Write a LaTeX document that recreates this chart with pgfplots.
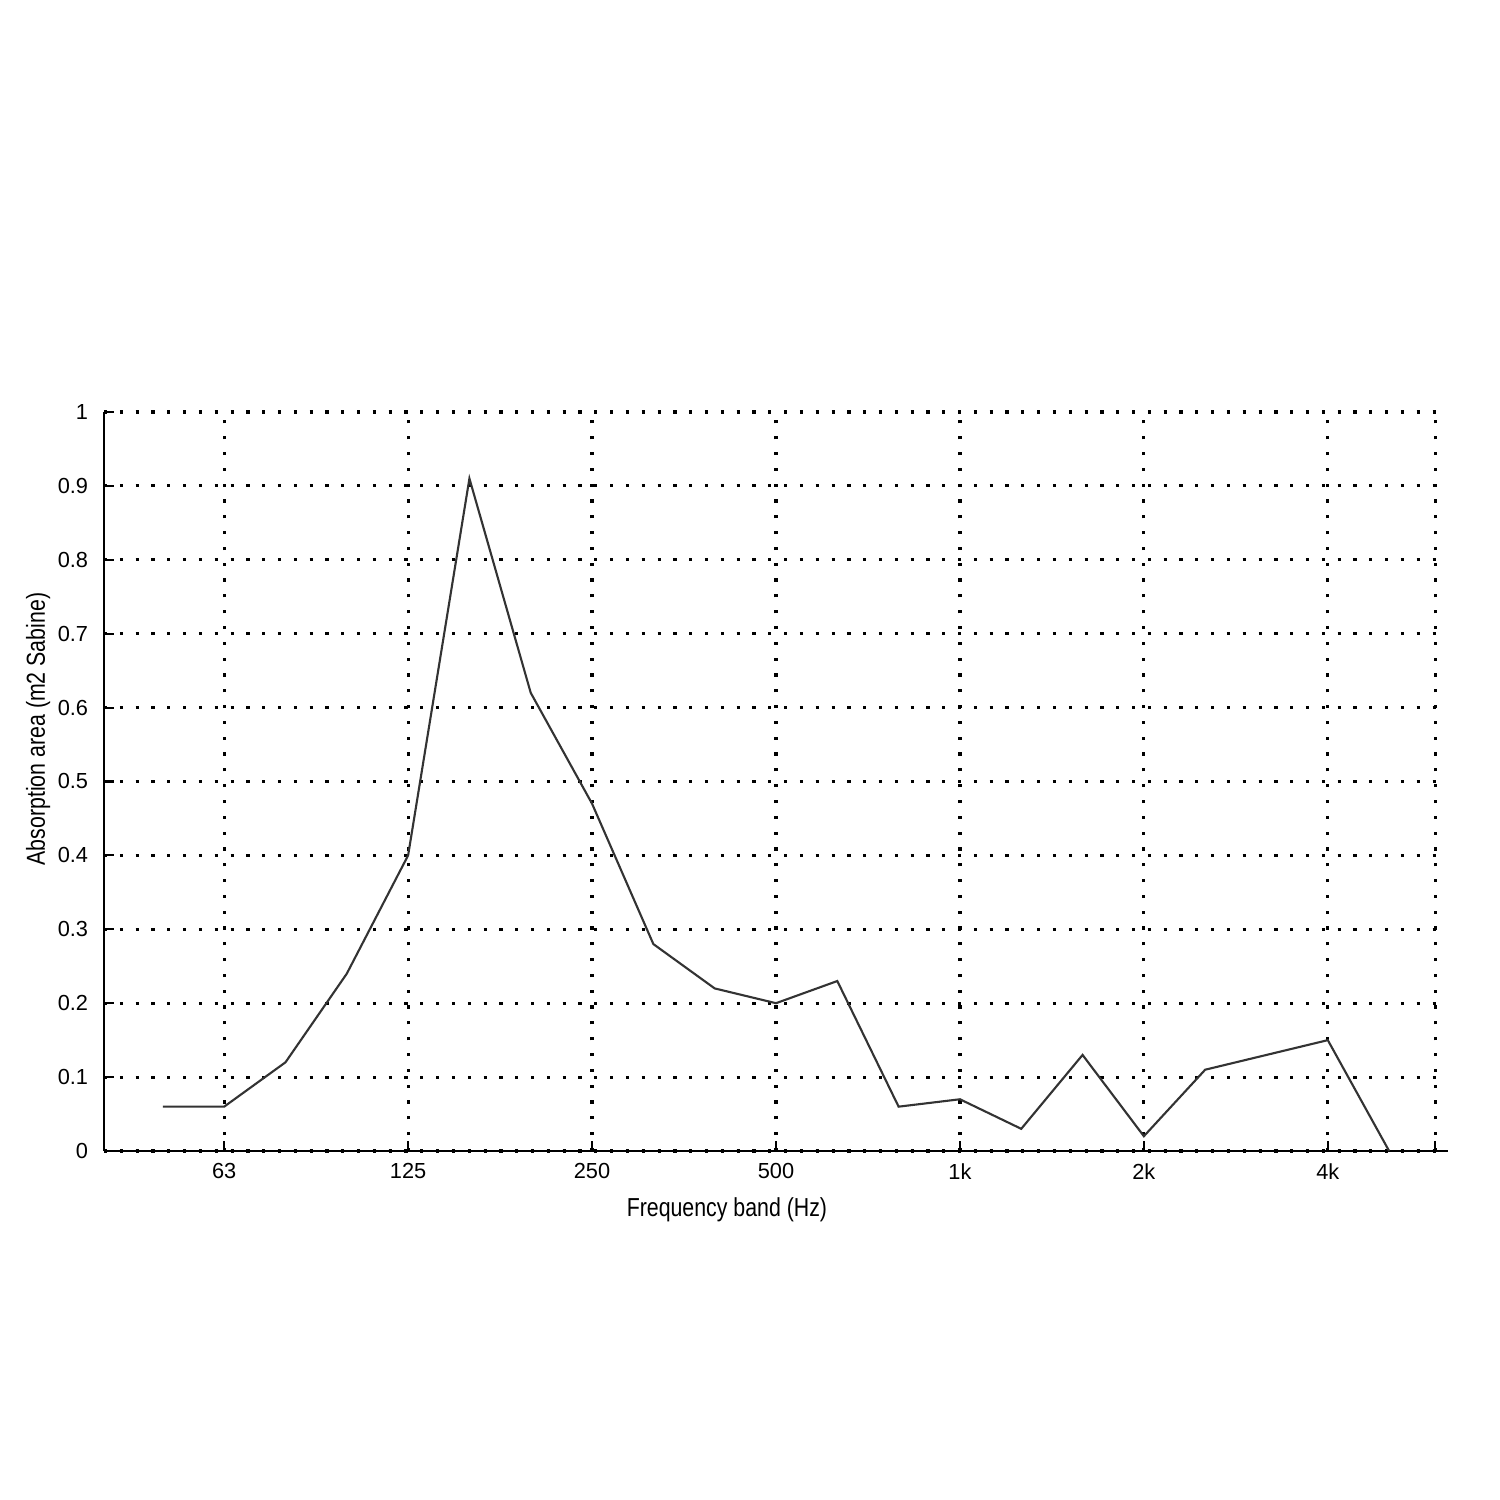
\documentclass[border=0pt]{standalone}
\usepackage{pgfplots}
\pgfplotsset{compat=1.18}
\usepackage{fontspec}
\setmainfont{Liberation Sans}
\newfontfamily\narrowfont[FakeStretch=0.82]{Liberation Sans}

\begin{document}
\begin{tikzpicture}
\begin{axis}[
  name=ax,
  at={(0,0)}, anchor=south west,
  scale only axis,
  width=13.44cm,
  height=7.39cm,
  xmin=-0.96, xmax=20.96,
  ymin=0, ymax=1,
  axis x line*=bottom,
  axis y line*=left,
  axis line style={line width=0.6pt},
  xtick={1,4,7,10,13,16,19},
  xticklabels={63,125,250,500,1k,2k,4k},
  extra x ticks={20.75},
  extra x tick labels={},
  ytick={0,0.1,...,1},
  yticklabels={0,0.1,0.2,0.3,0.4,0.5,0.6,0.7,0.8,0.9,1},
  tick align=inside,
  major tick length=0.1cm,
  tick style={black, line width=0.6pt},
  grid=major,
  major grid style={black, line width=0.9pt, dash pattern=on 0.9pt off 3.6pt},
  ticklabel style={font=\fontsize{6.2}{7}\selectfont},
  yticklabel style={xshift=-1pt},
  xlabel={Frequency band (Hz)},
  ylabel={Absorption area (m2 Sabine)},
  label style={font=\narrowfont\fontsize{7.4}{8}\selectfont},
  xlabel style={at={(axis description cs:0.4635,-0.08)}, anchor=center},
  ylabel style={at={(axis description cs:-0.049,0.571)}, anchor=center},
  clip=false,
]
\addplot[black!80, line width=0.6pt] coordinates {
  (0,0.06) (1,0.06) (2,0.12) (3,0.24) (4,0.40) (5,0.91) (6,0.62)
  (7,0.47) (8,0.28) (9,0.22) (10,0.20) (11,0.23) (12,0.06) (13,0.07)
  (14,0.03) (15,0.13) (16,0.02) (17,0.11) (18,0.13) (19,0.15) (20,0.0)
};
\end{axis}
\useasboundingbox (-1.04cm,-3.49cm) rectangle (13.96cm,11.51cm);
\end{tikzpicture}
\end{document}
